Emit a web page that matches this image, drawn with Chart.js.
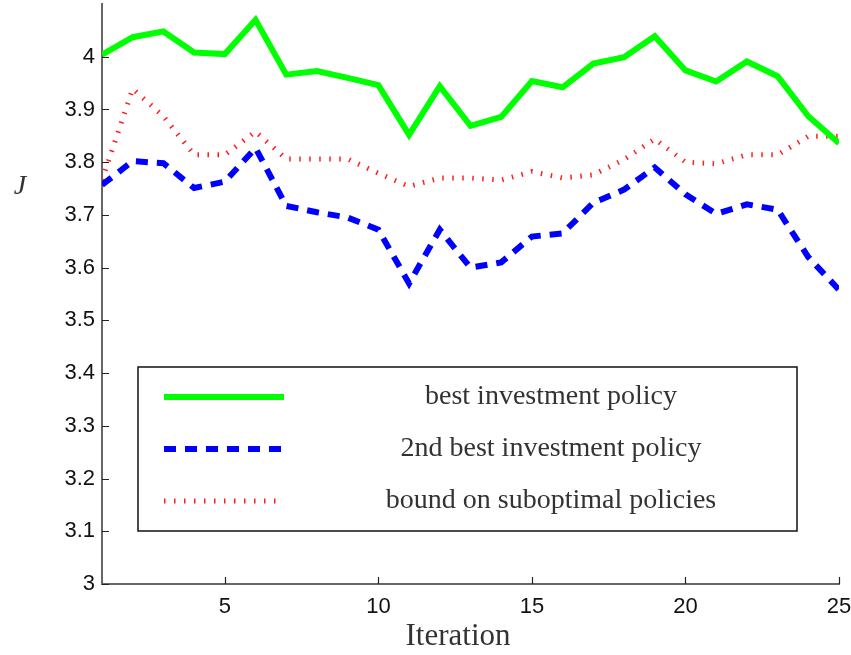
<!DOCTYPE html>
<html>
<head>
<meta charset="utf-8">
<script src="https://cdn.jsdelivr.net/npm/chart.js@4"></script>
<style>
  html, body { margin: 0; padding: 0; background: #fff; }
  #wrap { width: 851px; height: 655px; }
</style>
</head>
<body>
<div id="wrap"><canvas id="myChart" width="851" height="655"></canvas></div>
<script>
// data
var iterations = [1,2,3,4,5,6,7,8,9,10,11,12,13,14,15,16,17,18,19,20,21,22,23,24,25];
var bestPolicy = [4.004,4.037,4.048,4.008,4.005,4.070,3.966,3.973,3.960,3.946,3.852,3.944,3.869,3.886,3.954,3.942,3.987,3.999,4.039,3.974,3.953,3.991,3.963,3.887,3.836];
var secondBest = [3.757,3.802,3.798,3.751,3.763,3.827,3.717,3.705,3.695,3.672,3.570,3.672,3.600,3.610,3.659,3.665,3.723,3.748,3.790,3.739,3.702,3.720,3.710,3.620,3.558];
var bound = [3.766,3.939,3.887,3.814,3.814,3.858,3.806,3.806,3.806,3.779,3.754,3.770,3.770,3.766,3.782,3.770,3.776,3.805,3.844,3.800,3.797,3.814,3.814,3.849,3.849];
var seriesNames = ['best investment policy', '2nd best investment policy', 'bound on suboptimal policies'];
var xTicks = [5,10,15,20,25];
var yTicks = [3,3.1,3.2,3.3,3.4,3.5,3.6,3.7,3.8,3.9,4];

function toPoints(values) {
  return values.map(function(v, i) { return { x: iterations[i], y: v }; });
}

// inward tick marks, matlab style
const insideTicks = {
  id: 'insideTicks',
  afterDraw: function(chart) {
    const ctx = chart.ctx;
    const area = chart.chartArea;
    const xs = chart.scales.x, ys = chart.scales.y;
    ctx.save();
    ctx.strokeStyle = '#222';
    ctx.lineWidth = 1.2;
    ctx.beginPath();
    xTicks.forEach(function(t) {
      const px = Math.round(xs.getPixelForValue(t)) + 0.5;
      ctx.moveTo(px, area.bottom);
      ctx.lineTo(px, area.bottom - 7);
    });
    yTicks.forEach(function(t) {
      const py = Math.round(ys.getPixelForValue(t)) + 0.5;
      ctx.moveTo(area.left, py);
      ctx.lineTo(area.left + 7, py);
    });
    ctx.stroke();
    ctx.restore();
  }
};

// boxed legend inside the plot + axis titles
const boxLegend = {
  id: 'boxLegend',
  afterDraw: function(chart) {
    const ctx = chart.ctx;
    ctx.save();
    ctx.fillStyle = '#fff';
    ctx.fillRect(138, 367, 659, 164);
    ctx.strokeStyle = '#111';
    ctx.lineWidth = 1.5;
    ctx.strokeRect(138, 367, 659, 164);
    const rows = [397, 449, 501];
    chart.data.datasets.forEach(function(ds, i) {
      ctx.beginPath();
      ctx.strokeStyle = ds.borderColor;
      ctx.lineWidth = ds.borderWidth;
      ctx.setLineDash(ds.borderDash || []);
      ctx.lineCap = 'butt';
      ctx.moveTo(164, rows[i]);
      ctx.lineTo(284, rows[i]);
      ctx.stroke();
      ctx.setLineDash([]);
      ctx.fillStyle = '#333';
      ctx.font = '28px "Liberation Serif"';
      ctx.textAlign = 'center';
      ctx.textBaseline = 'middle';
      ctx.fillText(ds.label, 551, rows[i]);
    });
    ctx.fillStyle = '#333';
    ctx.font = '31px "Liberation Serif"';
    ctx.textAlign = 'center';
    ctx.textBaseline = 'middle';
    ctx.fillText('Iteration', 458, 637);
    ctx.font = 'italic 28px "Liberation Serif"';
    ctx.fillText('J', 20, 187);
    ctx.restore();
  }
};

function noEdgePadding(scale) {
  scale.paddingTop = 0;
  scale.paddingBottom = 0;
  scale.paddingLeft = 0;
  scale.paddingRight = 0;
}

const ctx = document.getElementById('myChart').getContext('2d');
new Chart(ctx, {
  type: 'line',
  data: {
    datasets: [{
      label: seriesNames[0],
      data: toPoints(bestPolicy),
      borderColor: 'rgb(0, 255, 0)',
      borderWidth: 6,
      pointRadius: 0,
      tension: 0,
      borderJoinStyle: 'miter'
    }, {
      label: seriesNames[1],
      data: toPoints(secondBest),
      borderColor: 'rgb(0, 0, 255)',
      borderWidth: 6,
      borderDash: [12, 9],
      pointRadius: 0,
      tension: 0
    }, {
      label: seriesNames[2],
      data: toPoints(bound),
      borderColor: 'rgb(255, 30, 30)',
      borderWidth: 5,
      borderDash: [1.5, 8.5],
      pointRadius: 0,
      tension: 0
    }]
  },
  options: {
    responsive: false,
    animation: false,
    layout: { padding: { top: 4, right: 12, left: 0, bottom: 0 } },
    plugins: {
      legend: { display: false },
      tooltip: { enabled: false }
    },
    scales: {
      x: {
        type: 'linear',
        min: 1,
        max: 25,
        afterBuildTicks: function(scale) {
          scale.ticks = xTicks.map(function(v) { return { value: v }; });
        },
        afterFit: function(scale) { scale.height = 71; noEdgePadding(scale); },
        grid: { display: false, drawTicks: false },
        border: { display: true, color: '#666', width: 2 },
        ticks: {
          color: '#111',
          padding: 10,
          maxRotation: 0,
          font: { family: 'Liberation Sans', size: 22 }
        }
      },
      y: {
        type: 'linear',
        min: 3,
        max: 4.1,
        afterBuildTicks: function(scale) {
          scale.ticks = yTicks.map(function(v) { return { value: v }; });
        },
        afterFit: function(scale) { scale.width = 102; noEdgePadding(scale); },
        grid: { display: false, drawTicks: false },
        border: { display: true, color: '#666', width: 2 },
        ticks: {
          color: '#111',
          padding: 7,
          font: { family: 'Liberation Sans', size: 22 },
          callback: function(v) { return String(Math.round(v * 10) / 10); }
        }
      }
    }
  },
  plugins: [insideTicks, boxLegend]
});
</script>
</body>
</html>
